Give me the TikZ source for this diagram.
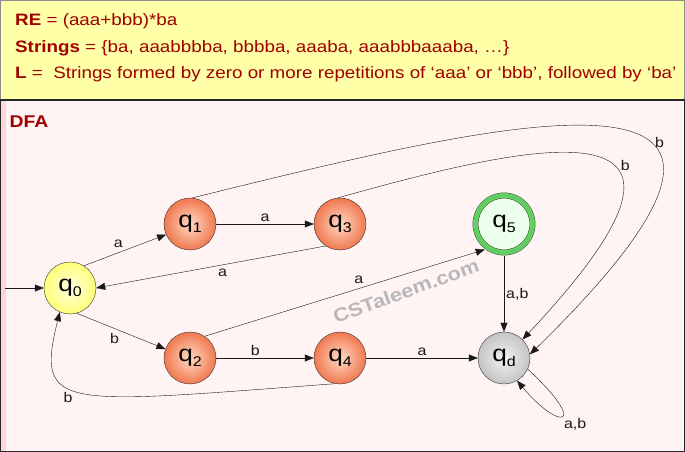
\documentclass[tikz,border=0pt]{standalone}
\usepackage{fontspec}
\setmainfont{Liberation Sans}[FakeStretch=1.14]
\usepackage{tikz}
\usetikzlibrary{arrows.meta}
\usetikzlibrary{calc}
\usetikzlibrary{positioning}

\definecolor{hdrred}{RGB}{160,0,0}
\definecolor{hdrbg}{RGB}{255,255,168}
\definecolor{panelbg}{RGB}{255,243,243}
\definecolor{panelstrip}{RGB}{255,214,214}
\definecolor{orangeout}{RGB}{240,120,80}
\definecolor{orangein}{RGB}{255,218,196}
\definecolor{yellowout}{RGB}{255,255,120}
\definecolor{yellowin}{RGB}{255,255,228}
\definecolor{greenring}{RGB}{96,206,96}
\definecolor{greenin}{RGB}{236,255,236}
\definecolor{grayout}{RGB}{196,196,196}
\definecolor{grayin}{RGB}{242,242,242}

\newcommand{\qn}[1]{{\fontsize{23}{23}\selectfont q}\raisebox{-5pt}{\fontsize{14}{14}\selectfont #1}}

\tikzset{
  dstate/.style={draw=black!80, circle, inner sep=0pt, minimum size=52pt},
  trans/.style={-{Triangle[length=9pt,width=7pt]}, black!90},
  lbl/.style={font=\fontsize{14}{14}\selectfont, inner sep=2pt},
  hdr/.style={anchor=base west, text=hdrred, inner sep=0pt, font=\fontsize{16.5}{16.5}\selectfont},
}

\begin{document}
\begin{tikzpicture}[x=1pt, y=1pt]
            \useasboundingbox (0,0) rectangle (685,452);
            % header
            \fill[hdrbg] (0,352) rectangle (685,452);
            \draw[black!45, line width=1pt] (0.5,352) rectangle (684.5,451.5);
            \node[hdr] (re) at (15,426) {\textbf{RE} = (aaa+bbb)*ba};
            \node[hdr] (str) at (15,399.3) {\textbf{Strings} = \{ba, aaabbbba, bbbba, aaaba, aaabbbaaaba, …\}};
            \node[hdr] (lang) at (15,373.7) {\textbf{L} =\ \ Strings formed by zero or more repetitions of ‘aaa’ or ‘bbb’, followed by ‘ba’};
            % panel
            \fill[panelbg] (0,0) rectangle (685,352);
            \fill[panelstrip] (0,0) rectangle (6,352);
            \draw[black!85, line width=1.3pt] (0.65,0.65) rectangle (684.35,352);
            \node[anchor=base west, text=hdrred, inner sep=0pt, font=\bfseries\fontsize{17}{17}\selectfont] (dfa) at (9.5,324) {DFA};
            \node[rotate=20, text=black!28, font=\bfseries\fontsize{19}{19}\selectfont] (wm) at (406,161) {CSTaleem.com};

            \draw (70,164) node[dstate, inner color=yellowin, outer color=yellowout]          (q0) {\qn{0}};
            \draw (190,228) node[dstate, inner color=orangein, outer color=orangeout]         (q1) {\qn{1}};
            \draw (190,94) node[dstate, inner color=orangein, outer color=orangeout]          (q2) {\qn{2}};
            \draw (340,228) node[dstate, inner color=orangein, outer color=orangeout]         (q3) {\qn{3}};
            \draw (340,94) node[dstate, inner color=orangein, outer color=orangeout]          (q4) {\qn{4}};
            \draw (504,228) node[dstate, minimum size=57pt, double=greenring, double distance=5pt,
                                 outer sep=3.5pt, inner color=greenin, outer color=greenin] (q5) {\qn{5}};
            \draw (504,94) node[dstate, inner color=grayin, outer color=grayout]              (qd) {\qn{d}};
            \coordinate (start) at (5,164);

            \draw[trans] (start) -- (q0.west);
            \draw[trans] (q0.58) -- node[lbl, above left] {a} (q1.204);
            \draw[trans] (q1.east) -- node[lbl, above] {a} (q3.west);
            \draw[trans] (q3.237) -- node[lbl, pos=0.45, below=2pt] {a} (q0.east);
            \draw[trans] (q0.-75) -- node[lbl, below left] {b} (q2.160);
            \draw[trans] (q2.east) -- node[lbl, pos=0.4, above] {b} (q4.west);
            \draw[trans] (q4.259) .. controls (60,48) and (35,40) .. node[lbl, pos=0.55, below left] {b} (q0.247);
            \draw[trans] (q2.56) -- node[lbl, pos=0.55, above=3pt] {a} (q5.233);
            \draw[trans] (q5.south) -- node[lbl, right] {a,b} (qd.north);
            \draw[trans] (q4.east) -- node[lbl, above] {a} (qd.west);
            \draw[trans] (qd.-25) .. controls (590,25) and (560,20) .. node[lbl, below right] {a,b} (qd.-60);
            \draw[trans] (q1.85) .. controls (500,330) and (860,420) .. node[lbl, pos=0.62, right=5pt] {b} (qd.8);
            \draw[trans] (q3.95) .. controls (520,305) and (760,365) .. node[lbl, pos=0.6, right=6pt] {b} (qd.45);

            \end{tikzpicture}
\end{document}
